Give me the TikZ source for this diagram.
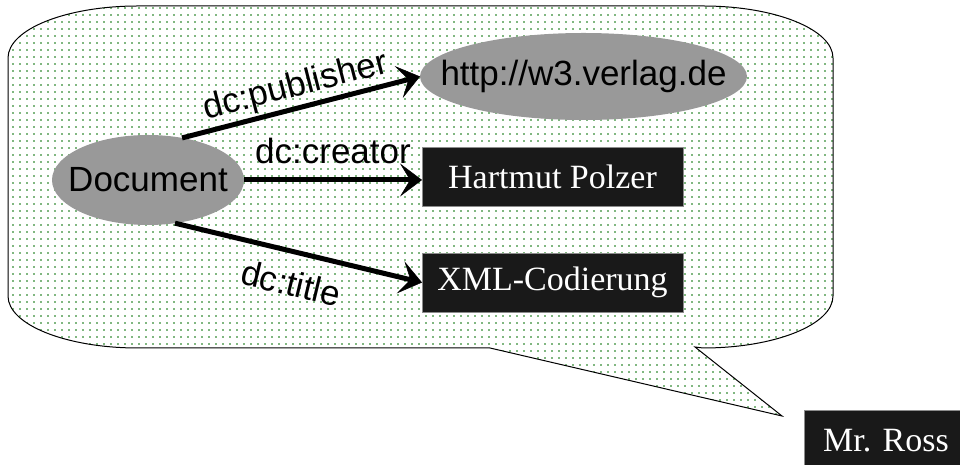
\documentclass[tikz,border=0pt]{standalone}
\usepackage{fontspec}
\newfontfamily\arialf{Liberation Sans}
\newfontfamily\tnrf{Liberation Serif}
\usetikzlibrary{patterns.meta,arrows.meta,shapes.geometric}
\definecolor{dotgreen}{RGB}{0,110,0}
\begin{document}
\begin{tikzpicture}[x=1pt,y=1pt,
  bubble/.style={draw=black, line width=1pt, pattern={Dots[distance=6.5pt,radius=0.9pt]}, pattern color=dotgreen},
  ell/.style={ellipse, fill=black!40, inner sep=0pt, outer sep=0pt},
  etext/.style={font=\arialf\fontsize{35}{40}\selectfont, inner sep=0pt},
  box/.style={rectangle, fill=black!90, draw=black!45, line width=0.6pt, text=white, inner sep=0pt, outer sep=0pt, font=\tnrf\fontsize{34}{40}\selectfont},
  arr/.style={line width=5pt, -{Stealth[length=22pt,width=33pt,inset=10pt,line width=0.5pt]}},
  lab/.style={font=\arialf\fontsize{35}{40}\selectfont, inner sep=2pt}]
\useasboundingbox (0,0) rectangle (960,465);
\path[bubble] (8,169) -- (8,407)
  arc[start angle=180,end angle=90,x radius=130,y radius=52] -- (703,459)
  arc[start angle=90,end angle=0,x radius=130,y radius=52] -- (833,169)
  arc[start angle=0,end angle=-90,x radius=130,y radius=52] -- (695,118)
  -- (782,49) -- (490,117) -- (138,117)
  arc[start angle=270,end angle=180,x radius=130,y radius=52] -- cycle;
\node[ell, minimum width=192pt, minimum height=90pt] (doc) at (148,285) {};
\node[etext] (doctxt) at (doc.center) {Document};
\node[ell, minimum width=327pt, minimum height=87pt] (pub) at (583.5,388.5) {};
\node[etext] (pubtxt) at (pub.center) {http://w3.verlag.de};
\node[box, minimum width=261pt, minimum height=59pt] (hart) at (552.5,288.5) {Hartmut Polzer};
\node[box, minimum width=261pt, minimum height=59pt] (xml) at (552.5,182.5) {XML-Codierung};
\node[box, minimum width=164pt, minimum height=62pt] (ross) at (886,24) {Mr. Ross};
\draw[arr] (doc.51) -- node[lab, above, sloped] {dc:publisher} (pub.west);
\draw[arr] (doc.east) -- node[lab, above=12pt] {dc:creator} (doc.east -| hart.west);
\draw[arr] (doc.-58) -- node[lab, below=14pt, sloped] {dc:title} (xml.west);
\end{tikzpicture}
\end{document}
